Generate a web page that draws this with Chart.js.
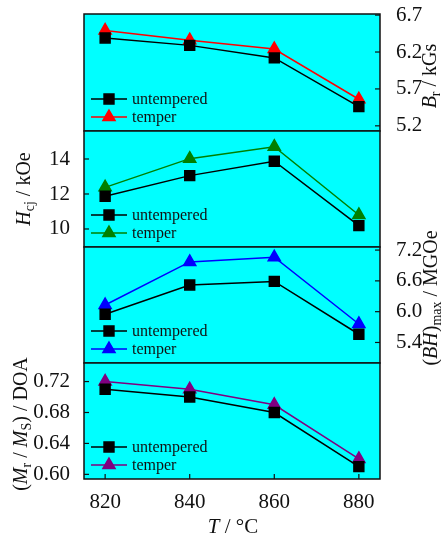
<!DOCTYPE html>
<html>
<head>
<meta charset="utf-8">
<script src="https://cdn.jsdelivr.net/npm/chart.js@4.4.0/dist/chart.umd.min.js"></script>
<style>
  body { margin: 0; background: #fff; }
  #wrap { position: relative; width: 441px; height: 538px; overflow: hidden; font-family: "Liberation Serif", "DejaVu Serif", serif; }
  canvas { position: absolute; left: 0; }
  .ttl { position: absolute; white-space: nowrap; font-size: 20px; color: #111; transform: translate(-50%, -50%) rotate(-90deg); }
  .ttl sub { font-size: 14px; vertical-align: -4px; }
  .xt { position: absolute; white-space: nowrap; font-size: 21px; color: #111; transform: translate(-50%, -50%); }
</style>
</head>
<body>
<div id="wrap">
  <canvas id="c1" style="top:0px"></canvas>
  <canvas id="c2" style="top:117px"></canvas>
  <canvas id="c3" style="top:233px"></canvas>
  <canvas id="c4" style="top:349px"></canvas>
  <div class="ttl" style="left:431px; top:76px"><i>B</i><sub>r</sub> / kGs</div>
  <div class="ttl" style="left:25px; top:189px"><i>H</i><sub>cj</sub> / kOe</div>
  <div class="ttl" style="left:432px; top:298px">(<i>BH</i>)<sub>max</sub> / MGOe</div>
  <div class="ttl" style="left:22px; top:424px">(<i>M</i><sub>r</sub> / <i>M</i><sub>S</sub>) / DOA</div>
  <div class="xt" style="left:233px; top:526px"><i>T</i> / °C</div>
</div>
<script>
// temperature, °C
const temps = [820, 840, 860, 880];
const xTicks = [820, 840, 860, 880];

// Br / kGs
const brUntempered = [6.39, 6.29, 6.12, 5.46];
const brTemper = [6.49, 6.36, 6.24, 5.56];
const brTicks = [5.2, 5.7, 6.2, 6.7];

// Hcj / kOe
const hcjUntempered = [11.87, 13.05, 13.87, 10.19];
const hcjTemper = [12.38, 14.02, 14.70, 10.80];
const hcjTicks = [10, 12, 14];

// (BH)max / MGOe
const bhUntempered = [5.95, 6.52, 6.59, 5.56];
const bhTemper = [6.13, 6.97, 7.06, 5.76];
const bhTicks = [5.4, 6.0, 6.6, 7.2];

// Mr/Ms / DOA
const mrUntempered = [0.71, 0.70, 0.68, 0.61];
const mrTemper = [0.72, 0.71, 0.69, 0.62];
const mrTicks = [0.60, 0.64, 0.68, 0.72];

const FONT = "Liberation Serif";
const W = 441, LEFT = 84, RIGHT = 61;

// cyan plot area + black frame + inner ticks
const frame = {
  id: 'frame',
  beforeDatasetsDraw(chart) {
    const { ctx, chartArea: a } = chart;
    ctx.save();
    ctx.fillStyle = '#00ffff';
    ctx.fillRect(a.left, a.top, a.right - a.left, a.bottom - a.top);
    ctx.restore();
  },
  afterDraw(chart) {
    const { ctx, chartArea: a } = chart;
    ctx.save();
    ctx.strokeStyle = '#111';
    ctx.lineWidth = 1.5;
    ctx.strokeRect(a.left, a.top, a.right - a.left, a.bottom - a.top);
    ctx.lineWidth = 1.2;
    const y = chart.scales.y;
    if (y.options.display) {
      y.ticks.forEach(t => {
        const py = y.getPixelForValue(t.value);
        ctx.beginPath();
        if (y.position === 'left') { ctx.moveTo(a.left, py); ctx.lineTo(a.left + 5, py); }
        else { ctx.moveTo(a.right, py); ctx.lineTo(a.right - 5, py); }
        ctx.stroke();
      });
    }
    const x = chart.scales.x;
    if (x.options.display) {
      x.ticks.forEach(t => {
        const px = x.getPixelForValue(t.value);
        ctx.beginPath();
        ctx.moveTo(px, a.bottom); ctx.lineTo(px, a.bottom - 5);
        ctx.stroke();
      });
    }
    ctx.restore();
  }
};

// legend in lower-left corner of each panel
const cornerLegend = {
  id: 'cornerLegend',
  afterDatasetsDraw(chart) {
    const { ctx, chartArea: a } = chart;
    ctx.save();
    chart.data.datasets.forEach((ds, i) => {
      const y = a.bottom - 32 + i * 18;
      const x0 = a.left + 7;
      ctx.strokeStyle = ds.borderColor;
      ctx.lineWidth = 1.5;
      ctx.beginPath();
      ctx.moveTo(x0, y); ctx.lineTo(x0 + 36, y);
      ctx.stroke();
      ctx.fillStyle = ds.pointBackgroundColor;
      Chart.helpers.drawPoint(ctx, { pointStyle: ds.pointStyle, radius: ds.pointRadius, borderWidth: 1 }, x0 + 18, y);
      ctx.fillStyle = '#111';
      ctx.font = '16px "' + FONT + '"';
      ctx.textBaseline = 'middle';
      ctx.fillText(ds.label, x0 + 41, y + 1);
    });
    ctx.restore();
  }
};

function series(label, data, color, style) {
  return {
    label: label,
    data: data,
    borderColor: color,
    backgroundColor: color,
    pointBackgroundColor: color,
    pointBorderColor: color,
    pointStyle: style,
    pointRadius: 7,
    pointHoverRadius: 7,
    borderWidth: 1.5,
    tension: 0
  };
}

function panel(id, height, side, yMin, yMax, yTicks, dsets, showX, pad, decimals) {
  const yAxis = {
    position: side,
    min: yMin,
    max: yMax,
    afterBuildTicks: s => { s.ticks = yTicks.map(v => ({ value: v })); },
    afterFit: s => {
      s.width = side === 'left' ? LEFT : RIGHT;
      // labels may hang over the panel edges, don't shrink the plot for them
      s.paddingTop = 0;
      s.paddingBottom = 0;
    },
    grid: { display: false },
    border: { display: false },
    ticks: {
      color: '#111',
      font: { family: FONT, size: 21 },
      padding: side === 'left' ? 6 : 8,
      callback: v => v.toFixed(decimals)
    }
  };
  const xAxis = {
    type: 'linear',
    min: 815,
    max: 885,
    display: showX,
    afterBuildTicks: s => { s.ticks = xTicks.map(v => ({ value: v })); },
    afterFit: s => { if (showX) s.height = 59; },
    grid: { display: false },
    border: { display: false },
    ticks: { color: '#111', font: { family: FONT, size: 21 }, padding: 3 }
  };
  const cv = document.getElementById(id);
  cv.width = W; cv.height = height;
  cv.style.width = W + 'px'; cv.style.height = height + 'px';
  return new Chart(cv, {
    type: 'line',
    data: { datasets: dsets.map(d => ({ ...d, data: d.data.map((v, i) => ({ x: temps[i], y: v })) })) },
    options: {
      responsive: false,
      animation: false,
      layout: {
        autoPadding: false,
        padding: { left: side === 'left' ? 0 : LEFT, right: side === 'left' ? RIGHT : 0, top: pad.top, bottom: pad.bottom }
      },
      plugins: { legend: { display: false }, tooltip: { enabled: false } },
      scales: { x: xAxis, y: yAxis }
    },
    plugins: [frame, cornerLegend]
  });
}

panel('c1', 145, 'right', 5.13, 6.715, brTicks, [
  series('untempered', brUntempered, '#000000', 'rect'),
  series('temper', brTemper, '#ff0000', 'triangle')
], false, { top: 14, bottom: 14 }, 1);

panel('c2', 144, 'left', 8.97, 15.6, hcjTicks, [
  series('untempered', hcjUntempered, '#000000', 'rect'),
  series('temper', hcjTemper, '#008000', 'triangle')
], false, { top: 14, bottom: 14 }, 0);

panel('c3', 144, 'right', 5.0, 7.26, bhTicks, [
  series('untempered', bhUntempered, '#000000', 'rect'),
  series('temper', bhTemper, '#0000ff', 'triangle')
], false, { top: 14, bottom: 14 }, 1);

panel('c4', 189, 'left', 0.594, 0.744, mrTicks, [
  series('untempered', mrUntempered, '#000000', 'rect'),
  series('temper', mrTemper, '#800080', 'triangle')
], true, { top: 14, bottom: 0 }, 2);
</script>
</body>
</html>
